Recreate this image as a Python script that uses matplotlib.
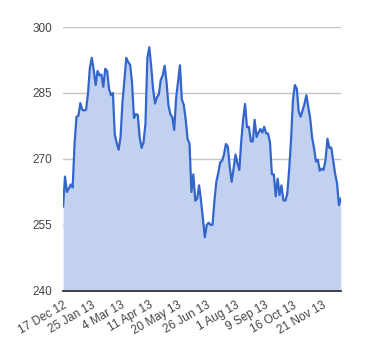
import matplotlib
matplotlib.use("Agg")
import matplotlib.pyplot as plt

plt.rcParams['font.family'] = ['Liberation Sans', 'DejaVu Sans']

# values, roughly 1.5 trading days apart
values = [
    259.2, 266.0, 262.5, 263.3, 264.2, 263.5, 273.5, 279.6, 279.8, 282.7,
    281.2, 281.0, 281.2, 284.9, 290.8, 293.0, 290.2, 286.8, 290.0, 289.0,
    289.2, 286.4, 290.5, 290.0, 285.9, 284.5, 285.0, 275.5, 273.6, 272.1,
    275.0, 282.9, 287.8, 293.0, 292.0, 291.4, 287.3, 279.3, 280.2, 280.0,
    274.8, 272.5, 273.8, 278.0, 293.0, 295.4, 291.0, 285.8, 282.6, 284.0,
    284.7, 288.0, 289.0, 291.2, 287.5, 282.2, 280.2, 279.5, 276.6, 283.8,
    287.6, 291.3, 283.5, 282.3, 279.0, 274.5, 273.5, 262.5, 266.5, 260.5,
    261.0, 264.0, 260.5, 256.3, 252.2, 255.0, 255.5, 255.0, 255.0, 260.5,
    264.8, 266.8, 269.2, 269.6, 271.0, 273.4, 272.8, 268.2, 264.8, 267.8,
    271.0, 269.0, 267.5, 274.0, 279.0, 282.5, 277.2, 277.3, 274.0, 274.0,
    278.9, 275.0, 276.0, 276.8, 276.0, 277.3, 275.8, 275.8, 273.8, 266.5,
    266.5, 261.5, 265.5, 261.8, 264.0, 260.6, 260.5, 262.0, 267.5, 274.3,
    283.5, 286.8, 286.0, 280.8, 279.6, 281.0, 282.5, 284.5, 281.8, 279.2,
    274.8, 272.5, 269.4, 269.8, 267.3, 267.8, 267.5, 269.8, 274.6, 272.5,
    272.6, 269.6, 266.6, 264.5, 259.5, 261.0,
]
tick_labels = ['17 Dec 12', '25 Jan 13', '4 Mar 13', '11 Apr 13', '20 May 13',
               '26 Jun 13', '1 Aug 13', '9 Sep 13', '16 Oct 13', '21 Nov 13']
tick_step = 15
y_ticks = [240, 255, 270, 285, 300]

x = list(range(len(values)))

fig = plt.figure(figsize=(3.8, 3.6), dpi=100)
ax = fig.add_axes([0.166, 0.192, 0.731, 0.733])

ax.fill_between(x, 240, values, color='#c2d1f0', linewidth=0, zorder=2)
ax.plot(x, values, color='#3366cc', linewidth=1.6, zorder=3)

ax.set_xlim(0, len(values) - 1)
ax.set_ylim(240, 300)
ax.set_yticks(y_ticks)
ax.set_xticks(x[::tick_step][:len(tick_labels)])
ax.set_xticklabels(tick_labels, rotation=30, ha='right', rotation_mode='anchor')

ax.grid(axis='y', color='#c4c4c4', linewidth=1, zorder=1)
ax.set_axisbelow(True)
for s in ['left', 'right', 'top']:
    ax.spines[s].set_visible(False)
ax.spines['bottom'].set_color('#333333')
ax.spines['bottom'].set_linewidth(1.3)
ax.spines['bottom'].set_zorder(4)

ax.tick_params(axis='both', length=0, labelsize=8.5, labelcolor='#444444')
ax.tick_params(axis='y', pad=8)
ax.tick_params(axis='x', pad=6)

fig.savefig('out.png', dpi=100)
